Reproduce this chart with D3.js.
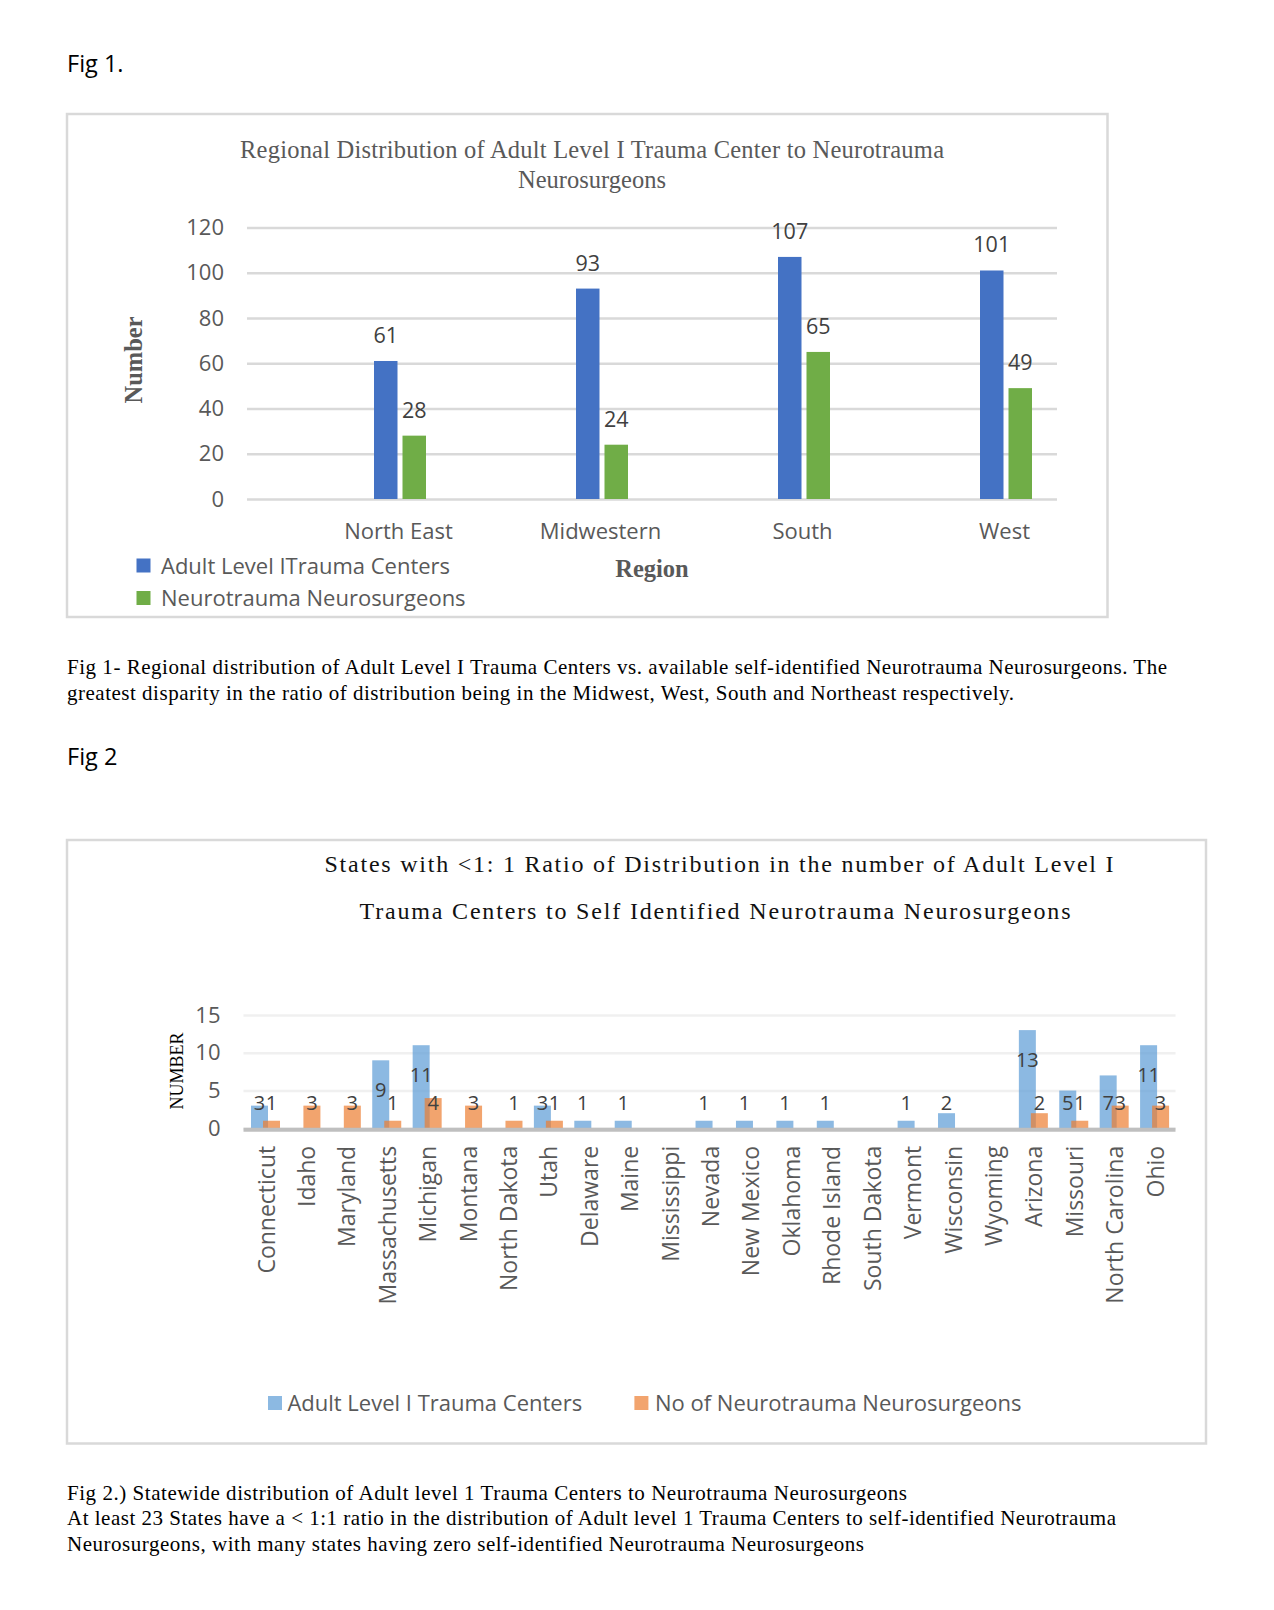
<!DOCTYPE html>
<html>
<head>
<meta charset="utf-8">
<script src="https://cdn.jsdelivr.net/npm/d3@7"></script>
<style>
  html, body { margin: 0; padding: 0; background: #fff; }
  svg { display: block; }
</style>
</head>
<body>
<svg id="page" width="1274" height="1610"></svg>
<script>
// ---------- DATA ----------
const regions = ["North East", "Midwestern", "South", "West"];
const traumaCenters = [61, 93, 107, 101];
const neurosurgeons = [28, 24, 65, 49];
const fig1Ticks = [0, 20, 40, 60, 80, 100, 120];
const fig1Series = ["Adult Level ITrauma Centers", "Neurotrauma Neurosurgeons"];

const states = ["Connecticut", "Idaho", "Maryland", "Massachusetts", "Michigan", "Montana",
  "North Dakota", "Utah", "Delaware", "Maine", "Mississippi", "Nevada", "New Mexico",
  "Oklahoma", "Rhode Island", "South Dakota", "Vermont", "Wisconsin", "Wyoming",
  "Arizona", "Missouri", "North Carolina", "Ohio"];
const stateCenters =  [3, 0, 0, 9, 11, 0, 0, 3, 1, 1, 0, 1, 1, 1, 1, 0, 1, 2, 0, 13, 5, 7, 11];
const stateSurgeons = [1, 3, 3, 1, 4, 3, 1, 1, 0, 0, 0, 0, 0, 0, 0, 0, 0, 0, 0, 2, 1, 3, 3];
const fig2Ticks = [0, 5, 10, 15];
const fig2Series = ["Adult Level I Trauma Centers", "No of Neurotrauma Neurosurgeons"];

// ---------- STYLE ----------
const SANS = "'Open Sans', 'DejaVu Sans', sans-serif";
const SERIF = "'Liberation Serif', 'Times New Roman', serif";
const GRAY = "#595959";
const DARK = "#404040";
const BLUE1 = "#4472c4", GREEN1 = "#70ad47";
const BLUE2 = "#5b9bd5", ORANGE2 = "#ed7d31";

const svg = d3.select("#page");
svg.append("rect").attr("width", 1274).attr("height", 1610).attr("fill", "#fff");

function txt(g, x, y, s, o = {}) {
  const t = g.append("text").attr("x", x).attr("y", y).text(s)
    .attr("font-family", o.family || SERIF)
    .attr("font-size", o.size || 21)
    .attr("fill", o.fill || "#000")
    .attr("text-anchor", o.anchor || "start");
  if (o.weight) t.attr("font-weight", o.weight);
  if (o.len) t.attr("textLength", o.len).attr("lengthAdjust", "spacing");
  if (o.transform) t.attr("transform", o.transform);
  return t;
}

// ---------- PAGE TEXT ----------
txt(svg, 67, 72, "Fig 1.", { family: SANS, size: 23.5 });
txt(svg, 67, 765, "Fig 2", { family: SANS, size: 23.5 });

txt(svg, 67, 674, "Fig 1- Regional distribution of Adult Level I Trauma Centers vs. available self-identified Neurotrauma Neurosurgeons. The", { size: 21, len: 1100 });
txt(svg, 67, 700, "greatest disparity in the ratio of distribution being in the Midwest, West, South and Northeast respectively.", { size: 21, len: 947 });

txt(svg, 67, 1500, "Fig 2.) Statewide distribution of Adult level 1 Trauma Centers to Neurotrauma Neurosurgeons", { size: 21, len: 840 });
txt(svg, 67, 1525, "At least 23 States have a < 1:1 ratio in the distribution of Adult level 1 Trauma Centers to self-identified Neurotrauma", { size: 21, len: 1049 });
txt(svg, 67, 1551, "Neurosurgeons, with many states having zero self-identified Neurotrauma Neurosurgeons", { size: 21, len: 797 });

// ---------- FIG 1 ----------
const f1 = svg.append("g");
f1.append("rect").attr("x", 67).attr("y", 114).attr("width", 1040.5).attr("height", 503)
  .attr("fill", "#fff").attr("stroke", "#d9d9d9").attr("stroke-width", 2.5);

txt(f1, 592, 158, "Regional Distribution of Adult Level I Trauma Center to Neurotrauma", { size: 24.5, fill: GRAY, anchor: "middle", len: 704 });
txt(f1, 592, 187.5, "Neurosurgeons", { size: 24.5, fill: GRAY, anchor: "middle" });

const y1 = d3.scaleLinear().domain([0, 120]).range([499, 227.5]);
const x1 = d3.scalePoint().domain(regions).range([400, 1006]);
const gridL1 = 247, gridR1 = 1057;

const ax1 = f1.append("g").attr("transform", `translate(${gridL1},0)`)
  .call(d3.axisLeft(y1).tickValues(fig1Ticks).tickSize(-(gridR1 - gridL1)).tickPadding(23));
ax1.select(".domain").remove();
ax1.selectAll(".tick line").attr("stroke", "#d9d9d9").attr("stroke-width", 2.5);
ax1.selectAll(".tick text").attr("font-family", SANS).attr("font-size", 22).attr("fill", GRAY);

const bx1 = f1.append("g").attr("transform", `translate(0,${y1(0)})`)
  .call(d3.axisBottom(x1).tickSize(0).tickPadding(24));
bx1.select(".domain").remove();
bx1.selectAll(".tick text").attr("font-family", SANS).attr("font-size", 22).attr("fill", GRAY)
  .attr("x", -2);

const bw1 = 23.5, gap1 = 2.5;
const d1 = regions.map((r, i) => ({ r, a: traumaCenters[i], b: neurosurgeons[i] }));
f1.selectAll(".barA").data(d1).join("rect")
  .attr("x", d => x1(d.r) - gap1 - bw1).attr("width", bw1)
  .attr("y", d => y1(d.a)).attr("height", d => y1(0) - y1(d.a)).attr("fill", BLUE1);
f1.selectAll(".barB").data(d1).join("rect")
  .attr("x", d => x1(d.r) + gap1).attr("width", bw1)
  .attr("y", d => y1(d.b)).attr("height", d => y1(0) - y1(d.b)).attr("fill", GREEN1);
f1.selectAll(".lblA").data(d1).join("text")
  .attr("x", d => x1(d.r) - gap1 - bw1 / 2).attr("y", d => y1(d.a) - 18)
  .attr("text-anchor", "middle").attr("font-family", SANS).attr("font-size", 21.5).attr("fill", DARK)
  .text(d => d.a);
f1.selectAll(".lblB").data(d1).join("text")
  .attr("x", d => x1(d.r) + gap1 + bw1 / 2).attr("y", d => y1(d.b) - 18)
  .attr("text-anchor", "middle").attr("font-family", SANS).attr("font-size", 21.5).attr("fill", DARK)
  .text(d => d.b);

txt(f1, 0, 0, "Number", { size: 24.5, weight: "bold", fill: GRAY, anchor: "middle", transform: "translate(141.5,360) rotate(-90)" });
txt(f1, 652, 577, "Region", { size: 24.5, weight: "bold", fill: GRAY, anchor: "middle" });

const leg1 = f1.append("g");
[BLUE1, GREEN1].forEach((c, i) => {
  leg1.append("rect").attr("x", 136.5).attr("y", 558.5 + i * 32.5).attr("width", 14).attr("height", 14).attr("fill", c);
  txt(leg1, 161, 573.5 + i * 32.5, fig1Series[i], { family: SANS, size: 22, fill: GRAY });
});

// ---------- FIG 2 ----------
const f2 = svg.append("g");
f2.append("rect").attr("x", 67).attr("y", 840).attr("width", 1139).attr("height", 603.5)
  .attr("fill", "#fff").attr("stroke", "#d9d9d9").attr("stroke-width", 2.5);

txt(f2, 324.5, 872, "States with <1: 1 Ratio of Distribution in the number of Adult Level I", { size: 24, len: 789, fill: "#111" });
txt(f2, 359.5, 919, "Trauma Centers to Self Identified Neurotrauma Neurosurgeons", { size: 24, len: 711, fill: "#111" });

const x2 = d3.scaleBand().domain(states).range([243.3, 1172.8]).padding(0);
const y2 = d3.scaleLinear().domain([0, 15]).range([1128.3, 1015]);
const gridL2 = 243.5, gridR2 = 1175.5;

const ax2 = f2.append("g").attr("transform", `translate(${gridL2},0)`)
  .call(d3.axisLeft(y2).tickValues(fig2Ticks).tickSize(-(gridR2 - gridL2)).tickPadding(23));
ax2.select(".domain").remove();
ax2.selectAll(".tick line").attr("stroke", "#f0f0f0").attr("stroke-width", 2.5);
ax2.selectAll(".tick text").attr("font-family", SANS).attr("font-size", 22).attr("fill", GRAY);

const bw2 = 17;
const d2 = states.map((s, i) => ({ s, a: stateCenters[i], b: stateSurgeons[i] }));
f2.selectAll(".barA").data(d2).join("rect")
  .attr("x", d => x2(d.s) + 7.7).attr("width", bw2)
  .attr("y", d => y2(d.a)).attr("height", d => y2(0) - y2(d.a))
  .attr("fill", BLUE2).attr("fill-opacity", 0.7);
f2.selectAll(".barB").data(d2).join("rect")
  .attr("x", d => x2(d.s) + 19.7).attr("width", bw2)
  .attr("y", d => y2(d.b)).attr("height", d => y2(0) - y2(d.b))
  .attr("fill", ORANGE2).attr("fill-opacity", 0.7);

// zero baseline
f2.append("line").attr("x1", gridL2).attr("x2", gridR2).attr("y1", y2(0) + 1.5).attr("y2", y2(0) + 1.5)
  .attr("stroke", "#bfbfbf").attr("stroke-width", 4);

const lblY = v => Math.min(y2(v) + 36.7, y2(0) - 18);
f2.selectAll(".lblA").data(d2.filter(d => d.a > 0)).join("text")
  .attr("x", d => x2(d.s) + 7.7 + bw2 / 2).attr("y", d => lblY(d.a))
  .attr("text-anchor", "middle").attr("font-family", SANS).attr("font-size", 20).attr("fill", DARK)
  .text(d => d.a);
f2.selectAll(".lblB").data(d2.filter(d => d.b > 0)).join("text")
  .attr("x", d => x2(d.s) + 19.7 + bw2 / 2).attr("y", d => lblY(d.b))
  .attr("text-anchor", "middle").attr("font-family", SANS).attr("font-size", 20).attr("fill", DARK)
  .text(d => d.b);

const bx2 = f2.append("g").attr("transform", `translate(0,${y2(0)})`)
  .call(d3.axisBottom(x2).tickSize(0));
bx2.select(".domain").remove();
bx2.selectAll(".tick text")
  .attr("x", 0).attr("y", 0).attr("dy", null)
  .attr("text-anchor", "end")
  .attr("transform", "translate(11,17.5) rotate(-90)")
  .attr("font-family", SANS).attr("font-size", 23).attr("fill", GRAY);

txt(f2, 0, 0, "NUMBER", { size: 18, anchor: "middle", transform: "translate(182.5,1071) rotate(-90)" });

const leg2 = f2.append("g");
[[BLUE2, 268, 287.4], [ORANGE2, 634.4, 655]].forEach(([c, rx, tx], i) => {
  leg2.append("rect").attr("x", rx).attr("y", 1396).attr("width", 14).attr("height", 14)
    .attr("fill", c).attr("fill-opacity", 0.7);
  txt(leg2, tx, 1411, fig2Series[i], { family: SANS, size: 22, fill: GRAY });
});
</script>
</body>
</html>
